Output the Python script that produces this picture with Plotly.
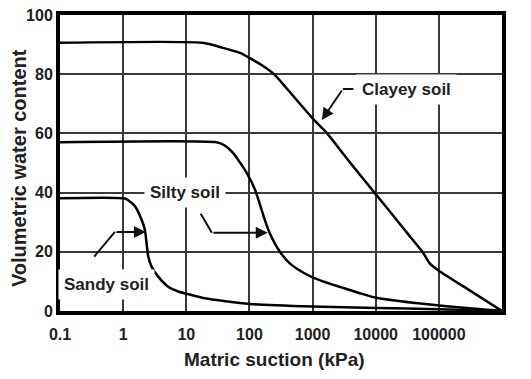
import plotly.graph_objects as go
import math

# Data (matric suction kPa, volumetric water content %)
clay_x = [0.1, 18, 38, 71, 100, 158, 245, 400, 630, 1000, 1700, 3160, 5620, 9550, 20000, 31600, 55000, 71000, 100000, 316000, 1000000]
clay_y = [90.6, 90.6, 88.9, 87.2, 85.5, 83, 80, 74.9, 70, 65.1, 60, 52.7, 46, 40, 31.6, 26.3, 20, 16.2, 13.6, 6.8, 0]

silt_x = [0.1, 30, 40, 55, 91, 123, 175, 210, 302, 436, 708, 1020, 2080, 3870, 5630, 10000, 39000, 132000, 1000000]
silt_y = [57, 57, 56, 53.4, 46.6, 40.9, 30.8, 26.3, 20.1, 16.1, 13.0, 11.3, 8.9, 7.1, 6.0, 4.5, 2.8, 1.6, 0]

sand_x = [0.1, 1.07, 1.28, 1.54, 1.96, 2.21, 2.35, 2.5, 2.82, 3.59, 5.17, 7.45, 12.1, 19.7, 100, 1000, 10000, 100000, 1000000]
sand_y = [38.1, 38.0, 37.0, 35.4, 30.8, 27.4, 22.9, 18.4, 15.0, 11.6, 8.2, 6.6, 5.4, 4.3, 2.4, 1.5, 1.0, 0.6, 0]

x_ticks = [0.1, 1, 10, 100, 1000, 10000, 100000, 1000000]
x_ticktext = ["0.1", "1", "10", "100", "1000", "10000", "100000", "1000000"]
y_ticks = [0, 20, 40, 60, 80, 100]

FONT = "Liberation Sans, Arial, sans-serif"
TXT = "#222"

fig = go.Figure()
for xs, ys in [(clay_x, clay_y), (silt_x, silt_y), (sand_x, sand_y)]:
    fig.add_trace(go.Scatter(x=xs, y=ys, mode="lines",
                             line=dict(color="black", width=2.5, shape="spline", smoothing=0.6),
                             showlegend=False, hoverinfo="skip"))

L = math.log10
anns = []
for text, lx, ly in [("Clayey soil", 10 ** 4.49, 74.7), ("Silty soil", 10 ** 0.98, 40), ("Sandy soil", 10 ** -0.256, 9.1)]:
    anns.append(dict(x=L(lx), y=ly, text="<b>" + text + "</b>", showarrow=False,
                     bgcolor="white", borderpad=5, font=dict(size=17, color=TXT, family=FONT)))

def seg(x0, y0, x1, y1, head):
    return dict(x=L(x1), y=y1, ax=L(x0), ay=y0, axref="x", ayref="y", xref="x", yref="y",
                text="", showarrow=True, arrowhead=2 if head else 0, arrowsize=1.2,
                arrowwidth=2, arrowcolor="#111", standoff=0, startstandoff=0)

# Clayey leader
anns.append(seg(10 ** 3.67, 75, 10 ** 3.48, 75, False))
anns.append(seg(10 ** 3.48, 75, 10 ** 3.146, 64.5, True))
# Silty leader
anns.append(seg(10 ** 1.215, 33.4, 10 ** 1.405, 26.4, False))
anns.append(seg(10 ** 1.405, 26.4, 10 ** 2.29, 26.4, True))
# Sandy leader
anns.append(seg(10 ** -0.478, 17.9, 10 ** -0.13, 26.7, False))
anns.append(seg(10 ** -0.13, 26.7, 10 ** 0.36, 26.7, True))

# Axis titles placed as paper annotations
anns.append(dict(xref="paper", yref="paper", x=0.486, y=-0.1655, yanchor="middle",
                 text="<b>Matric suction (kPa)</b>", showarrow=False,
                 font=dict(size=19, color=TXT, family=FONT)))
anns.append(dict(xref="paper", yref="paper", x=-0.0928, y=0.483, xanchor="center", yanchor="middle",
                 text="<b>Volumetric water content</b>", showarrow=False, textangle=-90,
                 font=dict(size=20, color=TXT, family=FONT)))

fig.update_layout(
    width=531, height=379,
    margin=dict(l=60, r=29, t=15, b=68),
    paper_bgcolor="white", plot_bgcolor="white",
    font=dict(family=FONT, color=TXT),
    annotations=anns,
    xaxis=dict(type="log", range=[-1, 6], tickvals=x_ticks,
               ticktext=["<b>" + t + "</b>" for t in x_ticktext],
               showgrid=True, gridcolor="#3a3a3a", gridwidth=2,
               showline=True, linecolor="black", linewidth=4, mirror=True,
               ticks="", ticklabelstandoff=6, zeroline=False, automargin=False,
               tickfont=dict(size=16, color=TXT, family=FONT)),
    yaxis=dict(range=[0, 100], tickvals=y_ticks,
               ticktext=["<b>" + str(v) + "</b>" for v in y_ticks],
               showgrid=True, gridcolor="#3a3a3a", gridwidth=2,
               showline=True, linecolor="black", linewidth=4, mirror=True,
               ticks="", ticklabelstandoff=0, zeroline=False, automargin=False,
               tickfont=dict(size=16, color=TXT, family=FONT)),
)

fig.write_html("out.html")
